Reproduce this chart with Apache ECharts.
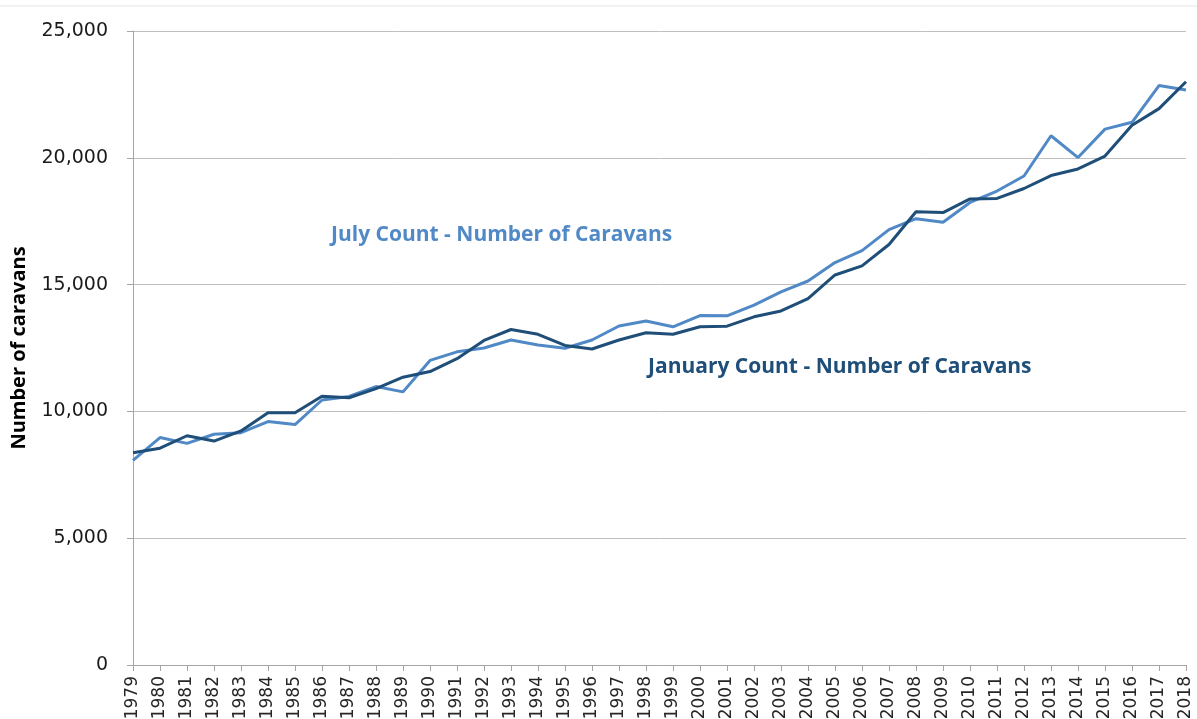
<!DOCTYPE html>
<html>
<head>
<meta charset="utf-8">
<title>Number of caravans</title>
<script src="https://cdn.jsdelivr.net/npm/echarts@6/dist/echarts.min.js"></script>
<style>
  html, body { margin: 0; padding: 0; background: #fff; }
  #chart { width: 1197px; height: 719px; }
</style>
</head>
<body>
<div id="chart"></div>
<script>
  // Years on the x axis
  var years = [];
  for (var y = 1979; y <= 2018; y++) years.push(String(y));

  // January count (dark line)
  var januaryCount = [
    8370, 8550, 9040, 8830, 9230, 9950, 9950, 10600, 10540, 10900,
    11350, 11570, 12080, 12800, 13230, 13040, 12600, 12460, 12815, 13100,
    13040, 13340, 13360, 13730, 13960, 14450, 15380, 15740, 16580, 17870,
    17840, 18380, 18400, 18790, 19300, 19560, 20070, 21280, 21940, 23000
  ];

  // July count (light line)
  var julyCount = [
    8070, 8970, 8740, 9100, 9160, 9600, 9480, 10450, 10590, 10980,
    10770, 12010, 12350, 12500, 12815, 12618, 12490, 12815, 13367, 13564,
    13335, 13780, 13770, 14190, 14715, 15142, 15870, 16340, 17170, 17600,
    17460, 18240, 18690, 19282, 20870, 20010, 21130, 21400, 22850, 22670
  ];

  var yTicks = { min: 0, max: 25000, interval: 5000 };

  var DARK = '#1f4e79';
  var LIGHT = '#5089c6';
  var GRID_GRAY = '#bfbfbf';
  var AXIS_GRAY = '#a6a6a6';

  var chart = echarts.init(document.getElementById('chart'));

  chart.setOption({
    backgroundColor: '#ffffff',
    animation: false,
    grid: {
      left: 133, right: 11, top: 31, bottom: 54,
      containLabel: false,
      outerBoundsMode: 'none'
    },
    xAxis: {
      type: 'category',
      data: years,
      boundaryGap: false,
      axisLine: { show: true, lineStyle: { color: AXIS_GRAY, width: 1 } },
      axisTick: { show: true, alignWithLabel: true, length: 6, lineStyle: { color: AXIS_GRAY } },
      axisLabel: {
        interval: 0,
        rotate: 90,
        margin: 11,
        color: '#262626',
        fontFamily: 'DejaVu Sans',
        fontSize: 17
      },
      splitLine: { show: false }
    },
    yAxis: {
      type: 'value',
      min: yTicks.min,
      max: yTicks.max,
      interval: yTicks.interval,
      name: 'Number of caravans',
      nameLocation: 'middle',
      nameGap: 104,
      nameRotate: 90,
      nameTextStyle: {
        color: '#000',
        fontFamily: 'Open Sans',
        fontWeight: 'bold',
        fontSize: 20
      },
      axisLine: { show: true, lineStyle: { color: AXIS_GRAY, width: 1 } },
      axisTick: { show: true, length: 6, lineStyle: { color: AXIS_GRAY } },
      axisLabel: {
        margin: 25,
        color: '#1a1a1a',
        fontFamily: 'DejaVu Sans',
        fontSize: 19,
        formatter: function (v) { return v.toLocaleString('en-US'); }
      },
      splitLine: { show: true, lineStyle: { color: GRID_GRAY, width: 1 } }
    },
    series: [
      {
        name: 'July Count - Number of Caravans',
        type: 'line',
        data: julyCount,
        symbol: 'none',
        lineStyle: { color: LIGHT, width: 3 },
        itemStyle: { color: LIGHT },
        z: 2
      },
      {
        name: 'January Count - Number of Caravans',
        type: 'line',
        data: januaryCount,
        symbol: 'none',
        lineStyle: { color: DARK, width: 3 },
        itemStyle: { color: DARK },
        z: 3
      }
    ],
    graphic: [
      {
        type: 'line',
        shape: { x1: 0, y1: 6, x2: 1197, y2: 6 },
        style: { stroke: '#e4e4e4', lineWidth: 1 },
        silent: true
      },
      {
        type: 'text',
        left: 331,
        top: 225,
        style: {
          text: 'July Count - Number of Caravans',
          fill: LIGHT,
          font: 'bold 21px "Open Sans"'
        }
      },
      {
        type: 'text',
        left: 648,
        top: 357,
        style: {
          text: 'January Count - Number of Caravans',
          fill: DARK,
          font: 'bold 21px "Open Sans"'
        }
      }
    ]
  });
</script>
</body>
</html>
